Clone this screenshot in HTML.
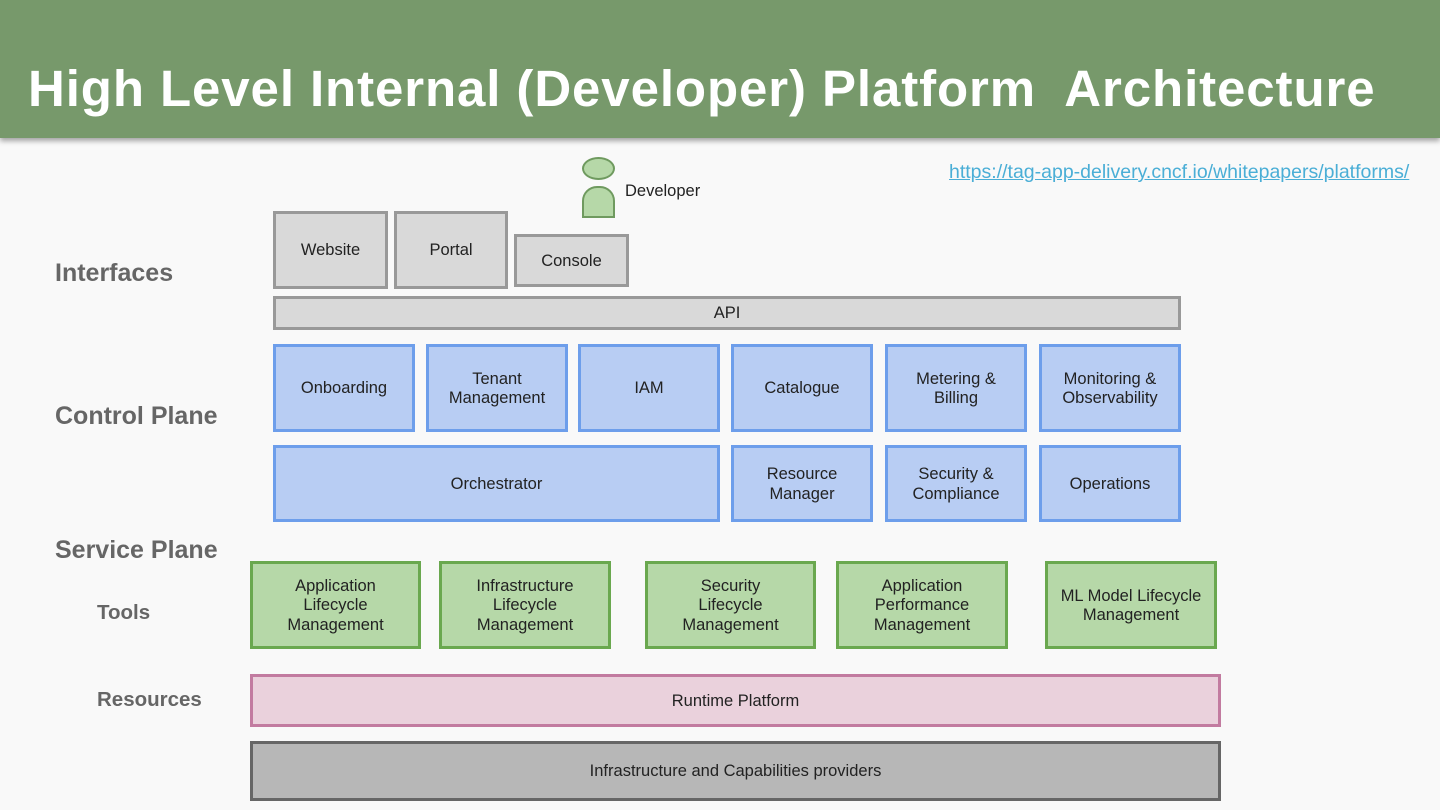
<!DOCTYPE html>
<html><head><meta charset="utf-8"><style>
body{margin:0;width:1440px;height:810px;background:#f9f9f9;font-family:"Liberation Sans","DejaVu Sans",sans-serif;position:relative;overflow:hidden}
.hdr{position:absolute;left:0;top:0;width:1440px;height:138px;background:#77996b;box-shadow:0 3px 5px rgba(0,0,0,.35)}
.hdr div{position:absolute;left:28px;top:59px;color:#fff;font-weight:bold;font-size:51px;letter-spacing:0.9px;line-height:60px;white-space:pre}
.b{position:absolute;box-sizing:border-box;border:3px solid;padding-top:2px;display:flex;align-items:center;justify-content:center;text-align:center;font-size:16.5px;color:#222;line-height:19.5px}
.g{background:#d9d9d9;border-color:#999}
.bl{background:#b8cdf3;border-color:#6d9eeb}
.gr{background:#b6d8a8;border-color:#6aa84f}
.lab{position:absolute;color:#666;font-weight:bold;font-size:25px}
.sm{font-size:20.5px}
</style></head><body>
<div class="hdr"><div>High Level Internal (Developer) Platform  Architecture</div></div>
<div style="position:absolute;left:949px;top:161px;font-size:19.5px;color:#4aaed6;text-decoration:underline">https://tag-app-delivery.cncf.io/whitepapers/platforms/</div>
<div style="position:absolute;left:582px;top:157px;width:29px;height:19px;border:2px solid #6f9a5f;background:#b6d8a8;border-radius:50%"></div>
<div style="position:absolute;left:582px;top:186px;width:29px;height:28px;border:2px solid #6f9a5f;background:#b6d8a8;border-radius:15px 15px 0 0"></div>
<div style="position:absolute;left:625px;top:182px;font-size:16.5px;color:#222">Developer</div>
<div class="lab" style="left:55px;top:259px">Interfaces</div>
<div class="lab" style="left:55px;top:402px">Control Plane</div>
<div class="lab" style="left:55px;top:536px">Service Plane</div>
<div class="lab sm" style="left:97px;top:601px">Tools</div>
<div class="lab sm" style="left:97px;top:688px">Resources</div>
<div class="b g" style="left:273px;top:211px;width:115px;height:78px">Website</div>
<div class="b g" style="left:394px;top:211px;width:114px;height:78px">Portal</div>
<div class="b g" style="left:514px;top:234px;width:115px;height:53px">Console</div>
<div class="b g" style="left:273px;top:296px;width:908px;height:34px">API</div>
<div class="b bl" style="left:273px;top:344px;width:142px;height:88px">Onboarding</div>
<div class="b bl" style="left:426px;top:344px;width:142px;height:88px">Tenant<br>Management</div>
<div class="b bl" style="left:578px;top:344px;width:142px;height:88px">IAM</div>
<div class="b bl" style="left:731px;top:344px;width:142px;height:88px">Catalogue</div>
<div class="b bl" style="left:885px;top:344px;width:142px;height:88px">Metering &amp;<br>Billing</div>
<div class="b bl" style="left:1039px;top:344px;width:142px;height:88px">Monitoring &amp;<br>Observability</div>
<div class="b bl" style="left:273px;top:445px;width:447px;height:77px">Orchestrator</div>
<div class="b bl" style="left:731px;top:445px;width:142px;height:77px">Resource<br>Manager</div>
<div class="b bl" style="left:885px;top:445px;width:142px;height:77px">Security &amp;<br>Compliance</div>
<div class="b bl" style="left:1039px;top:445px;width:142px;height:77px">Operations</div>
<div class="b gr" style="left:250px;top:561px;width:171px;height:88px">Application<br>Lifecycle<br>Management</div>
<div class="b gr" style="left:439px;top:561px;width:172px;height:88px">Infrastructure<br>Lifecycle<br>Management</div>
<div class="b gr" style="left:645px;top:561px;width:171px;height:88px">Security<br>Lifecycle<br>Management</div>
<div class="b gr" style="left:836px;top:561px;width:172px;height:88px">Application<br>Performance<br>Management</div>
<div class="b gr" style="left:1045px;top:561px;width:172px;height:88px">ML Model Lifecycle<br>Management</div>
<div class="b" style="left:250px;top:674px;width:971px;height:53px;background:#ead1dc;border-color:#c27ba0">Runtime Platform</div>
<div class="b" style="left:250px;top:741px;width:971px;height:60px;background:#b7b7b7;border-color:#666">Infrastructure and Capabilities providers</div>
</body></html>
